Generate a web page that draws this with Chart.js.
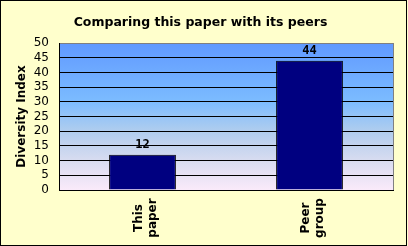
<!DOCTYPE html>
<html>
<head>
<meta charset="utf-8">
<script src="https://cdn.jsdelivr.net/npm/chart.js@4"></script>
<style>
  body { margin: 0; background: #ffffcc; }
  canvas { display: block; }
</style>
</head>
<body>
<canvas id="grafico" width="408" height="246"></canvas>
<script>
const categorias = [['This', 'paper'], ['Peer', 'group']];
const valores = [12, 44];
const titulo = 'Comparing this paper with its peers';
const tituloEjeY = 'Diversity Index';
const ejeYMin = 0;
const ejeYMax = 50;
const ejeYPaso = 5;

Chart.defaults.font.family = '"DejaVu Sans", Verdana, sans-serif';
Chart.defaults.color = '#000';

// fondo amarillo, degradado del área y bordes
const fondo = {
  id: 'fondo',
  beforeDraw(chart) {
    const { ctx, chartArea: a } = chart;
    ctx.save();
    ctx.fillStyle = '#ffffcc';
    ctx.fillRect(0, 0, chart.width, chart.height);
    const g = ctx.createLinearGradient(0, a.top, 0, a.bottom);
    g.addColorStop(0, '#6099ff');
    g.addColorStop(0.4, '#7cbcff');
    g.addColorStop(0.6, '#b0cdee');
    g.addColorStop(0.8, '#d8dcf0');
    g.addColorStop(1, '#faeafa');
    ctx.fillStyle = g;
    ctx.fillRect(a.left, a.top, a.right - a.left, a.bottom - a.top);
    ctx.restore();
  },
  afterDraw(chart) {
    const { ctx, chartArea: a } = chart;
    ctx.save();
    ctx.strokeStyle = '#808080';
    ctx.lineWidth = 1;
    ctx.beginPath();
    ctx.moveTo(Math.round(a.right) + 0.5, a.top);
    ctx.lineTo(Math.round(a.right) + 0.5, a.bottom);
    ctx.stroke();
    ctx.strokeStyle = '#000';
    ctx.strokeRect(0.5, 0.5, chart.width - 2, chart.height - 1);
    ctx.restore();
  }
};

// valores encima de las barras y etiquetas giradas del eje x
const etiquetas = {
  id: 'etiquetas',
  afterDatasetsDraw(chart) {
    const { ctx } = chart;
    const meta = chart.getDatasetMeta(0);
    const ejeX = chart.scales.x;
    ctx.save();
    ctx.fillStyle = '#000';
    ctx.textAlign = 'center';
    ctx.textBaseline = 'alphabetic';
    ctx.font = 'bold 12px "DejaVu Sans Mono", monospace';
    meta.data.forEach((barra, i) => {
      ctx.fillText(String(valores[i]), barra.x, barra.y - 7);
    });
    ctx.font = 'bold 12px "DejaVu Sans", Verdana, sans-serif';
    categorias.forEach((lineas, i) => {
      const px = ejeX.getPixelForTick(i);
      lineas.forEach((linea, j) => {
        ctx.save();
        ctx.translate(px - 1 + j * 14, 218);
        ctx.rotate(-Math.PI / 2);
        ctx.fillText(linea, 0, 0);
        ctx.restore();
      });
    });
    ctx.restore();
  }
};

new Chart(document.getElementById('grafico'), {
  type: 'bar',
  data: {
    labels: categorias,
    datasets: [{
      data: valores,
      backgroundColor: '#000080',
      borderColor: '#000',
      borderWidth: 1,
      barPercentage: 0.4,
      categoryPercentage: 1
    }]
  },
  options: {
    responsive: false,
    devicePixelRatio: 1,
    animation: false,
    layout: { padding: { left: 8, right: 15, top: 0, bottom: 48 } },
    plugins: {
      legend: { display: false },
      tooltip: { enabled: false },
      title: {
        display: true,
        text: titulo,
        color: '#000',
        font: { size: 12.5, weight: 'bold' },
        padding: { top: 15, bottom: 13 }
      }
    },
    scales: {
      x: {
        grid: { display: false },
        border: { color: '#000' },
        ticks: { display: false }
      },
      y: {
        min: ejeYMin,
        max: ejeYMax,
        ticks: { stepSize: ejeYPaso, autoSkip: false, color: '#000', font: { size: 12 }, padding: 10 },
        grid: {
          color: ctx => ctx.tick && ctx.tick.value === ejeYMax ? '#808080' : '#000',
          drawTicks: false
        },
        border: { color: '#000' },
        title: {
          display: true,
          text: tituloEjeY,
          color: '#000',
          font: { size: 12, weight: 'bold' },
          padding: { top: 7, bottom: 0 }
        },
        afterFit(escala) { escala.width = 51; }
      }
    }
  },
  plugins: [fondo, etiquetas]
});
</script>
</body>
</html>
